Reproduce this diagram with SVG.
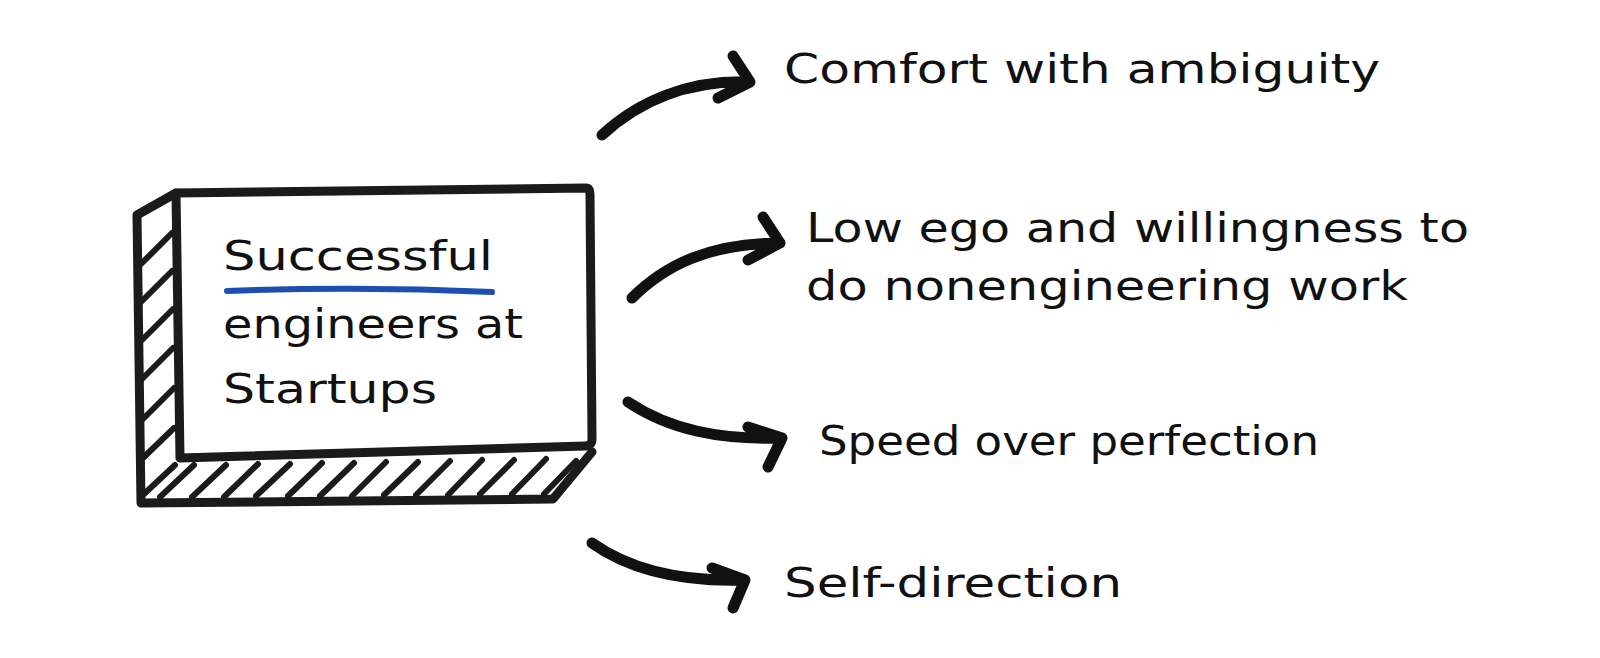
<svg xmlns="http://www.w3.org/2000/svg" width="1600" height="658" viewBox="0 0 1600 658">
<style>
.ol{fill:none;stroke:#1b1b1b;stroke-width:9;stroke-linecap:round;stroke-linejoin:round}
.ht{fill:none;stroke:#1b1b1b;stroke-width:6;stroke-linecap:round}
.ar{fill:none;stroke:#111;stroke-width:11;stroke-linecap:round;stroke-linejoin:round}
.t{font-family:"DejaVu Sans","Liberation Sans",sans-serif;font-size:40px;fill:#111}
</style>
<rect width="1600" height="658" fill="#fff"/>
<g id="box">
<path class="ol" d="M176,193 L586,188 Q590,188 590,195 L592,439 Q592,446 585,446 L180,458 Z"/>
<path class="ol" d="M176,193 L137,215 L141,503 L553,499 L592,452"/>
<g>
<path class="ht" d="M141,264 L172,233 M141,302 L172,271 M142,340 L173,309 M142,379 L173,348 M143,419 L174,388 M143,458 L174,428 M144,494 L175,465"/>
<path class="ht" d="M160,497 L194,465 M192,497 L226,465 M224,497 L258,464 M256,496 L290,464 M288,496 L322,463 M320,496 L354,463 M352,496 L386,462 M384,495 L418,462 M416,495 L450,461 M448,495 L482,460 M480,494 L514,460 M512,494 L546,459 M544,494 L576,461"/>
</g>
<text class="t" x="223" y="270" textLength="270" lengthAdjust="spacingAndGlyphs">Successful</text>
<path d="M227,291 Q360,286 492,292" fill="none" stroke="#1c4fb0" stroke-width="6" stroke-linecap="round"/>
<text class="t" x="223" y="338" textLength="300" lengthAdjust="spacingAndGlyphs">engineers at</text>
<text class="t" x="223" y="403" textLength="214" lengthAdjust="spacingAndGlyphs">Startups</text>
</g>
<g id="connectors">
<path class="ar" d="M602,135 C640,100 690,80 750,82 M733,56 L750,82 L718,98"/>
<path class="ar" d="M632,298 C665,265 710,243 780,243 M763,217 L780,243 L748,260"/>
<path class="ar" d="M628,402 C670,430 720,440 782,438 M748,427 L782,438 L768,467"/>
<path class="ar" d="M592,543 C630,570 680,582 745,580 M712,568 L745,580 L733,608"/>
</g>
<g id="n1"><text class="t" x="784" y="83" textLength="596" lengthAdjust="spacingAndGlyphs">Comfort with ambiguity</text></g>
<g id="n2"><text class="t" x="806" y="242" textLength="663" lengthAdjust="spacingAndGlyphs">Low ego and willingness to</text>
<text class="t" x="806" y="300" textLength="602" lengthAdjust="spacingAndGlyphs">do nonengineering work</text></g>
<g id="n3"><text class="t" x="819" y="455" textLength="500" lengthAdjust="spacingAndGlyphs">Speed over perfection</text></g>
<g id="n4"><text class="t" x="784" y="597" textLength="338" lengthAdjust="spacingAndGlyphs">Self-direction</text></g>
</svg>
